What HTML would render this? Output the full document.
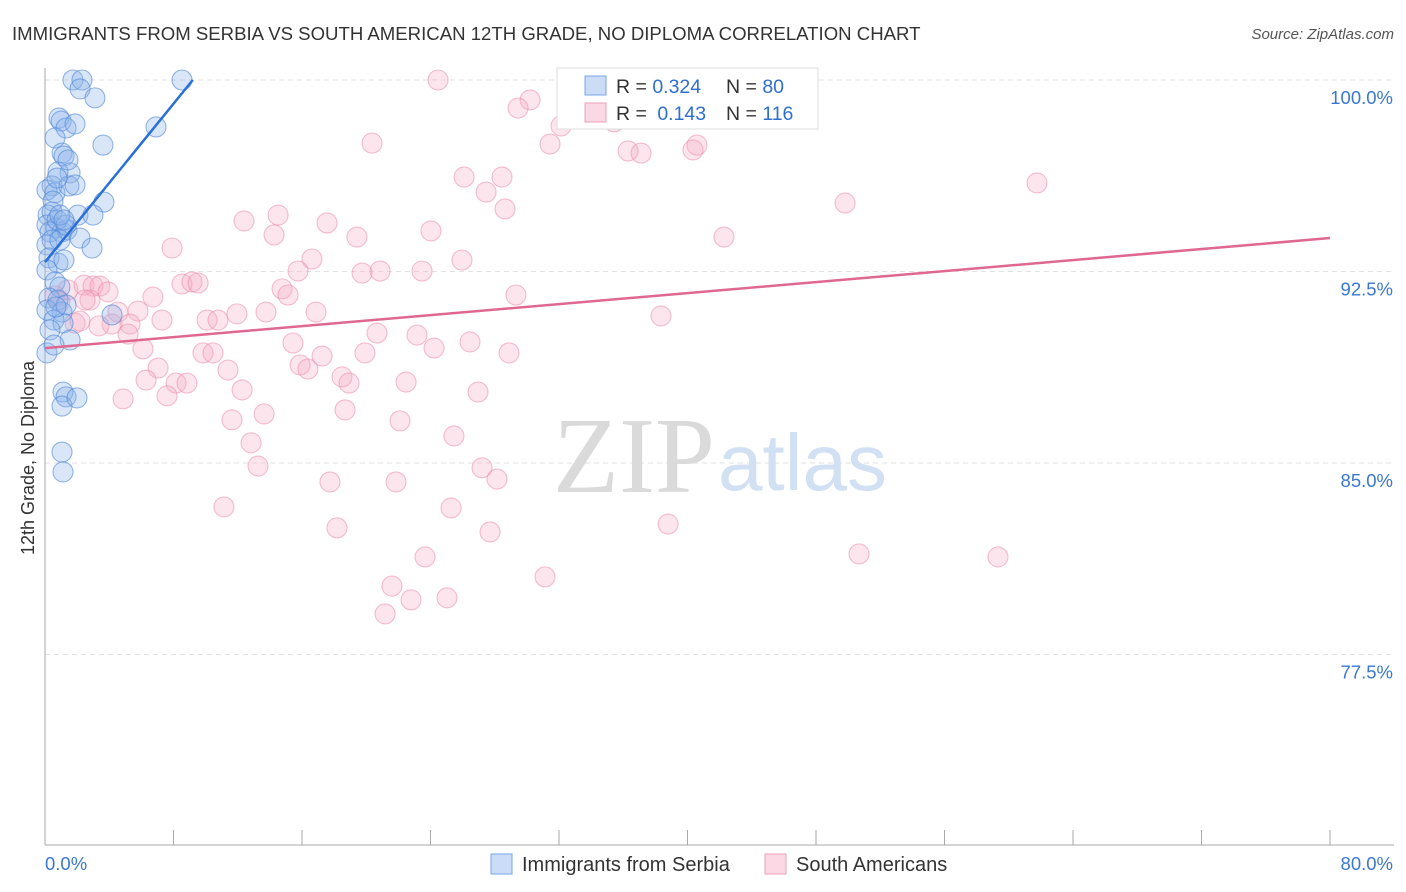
<!DOCTYPE html>
<html><head><meta charset="utf-8"><style>
body{margin:0;background:#fff;font-family:"Liberation Sans",sans-serif}
svg{display:block}
</style></head><body>
<svg id="chart" width="1406" height="892" xmlns="http://www.w3.org/2000/svg">
<text x="12" y="40" font-size="18.6" fill="#333">IMMIGRANTS FROM SERBIA VS SOUTH AMERICAN 12TH GRADE, NO DIPLOMA CORRELATION CHART</text>
<text x="1394" y="39" font-size="15" fill="#555" text-anchor="end" font-style="italic">Source: ZipAtlas.com</text>
<g id="grid"></g>
<text x="553" y="492" font-size="108" fill="#dadada" font-family="Liberation Serif,serif">ZIP</text>
<text x="718" y="490" font-size="80" fill="#d2e0f3">atlas</text>
<g id="axes"></g>
<g id="pinkPts"></g>
<g id="bluePts"></g>
<g id="lines"></g>
<text transform="translate(34,458) rotate(-90)" font-size="18" fill="#333" text-anchor="middle">12th Grade, No Diploma</text>
<g>
<rect x="557" y="68" width="261" height="61" fill="#fff" stroke="#ddd"/>
<rect x="585" y="76" width="21" height="19" fill="rgba(140,180,235,0.45)" stroke="#7aa6e4"/>
<text x="616" y="93" font-size="19.5" fill="#333">R = <tspan fill="#2f6fd0">0.324</tspan></text>
<text x="726" y="93" font-size="19.5" fill="#333">N = <tspan fill="#2f6fd0">80</tspan></text>
<rect x="585" y="103" width="21" height="19" fill="rgba(245,170,195,0.45)" stroke="#eda0b8"/>
<text x="616" y="120" font-size="19.5" fill="#333">R = <tspan dx="5" fill="#2f6fd0">0.143</tspan></text>
<text x="726" y="120" font-size="19.5" fill="#333">N = <tspan fill="#2f6fd0">116</tspan></text>
</g>
<g>
<rect x="491" y="854" width="21" height="20" fill="rgba(140,180,235,0.45)" stroke="#7aa6e4"/>
<text x="522" y="871" font-size="20" fill="#333">Immigrants from Serbia</text>
<rect x="765" y="854" width="21" height="20" fill="rgba(245,170,195,0.45)" stroke="#eda0b8"/>
<text x="796" y="871" font-size="20" fill="#333">South Americans</text>
</g>
</svg>
<script>
const yTicks=[100,92.5,85,77.5];
const yTickLabels=["100.0%","92.5%","85.0%","77.5%"];
const xEndLabels=["0.0%","80.0%"];
const serbiaX=[1.74,2.30,2.18,3.11,8.53,6.91,0.87,1.00,1.31,1.87,3.61,0.62,1.06,1.18,1.56,0.81,0.44,0.12,0.62,1.49,1.87,0.50,3.67,0.19,0.44,2.05,2.99,0.12,0.68,0.31,1.06,1.37,0.12,0.44,0.93,2.18,2.93,0.25,0.81,0.12,0.62,0.93,0.25,0.81,0.12,1.06,0.56,1.12,0.31,4.17,1.56,0.12,1.12,1.31,1.06,1.99,1.06,1.12,0.75,1.31,0.93,1.18,1.31,0.68,0.56,1.18,0.75,1.43];
const serbiaY=[100,100,99.65,99.3,100,98.16,98.51,98.39,98.12,98.28,97.45,97.73,97.14,97.02,96.36,96.40,95.85,95.69,95.58,95.85,95.89,95.26,95.22,94.71,94.83,94.71,94.71,94.32,94.20,94.05,94.05,94.13,93.54,93.73,93.73,93.81,93.42,93.03,92.83,92.56,92.09,91.89,91.46,91.38,90.99,90.91,90.60,90.48,90.21,90.80,89.82,89.31,87.78,87.59,87.23,87.55,85.43,84.65,94.52,94.32,94.71,92.95,91.19,91.11,89.62,94.52,96.16,96.87];
const saX=[24.47,32.56,30.20,29.45,32.13,35.43,20.36,31.44,36.30,37.11,40.59,40.34,61.76,49.81,26.09,28.45,27.46,28.64,12.39,14.51,17.56,14.26,19.42,24.03,42.27,7.91,16.62,25.96,15.75,20.86,19.74,23.47,8.53,9.15,9.53,14.76,15.13,6.72,29.32,0.62,1.43,2.43,2.99,3.42,3.92,2.80,4.54,5.79,7.28,10.09,10.77,11.95,13.76,16.87,38.35,4.17,5.29,1.87,2.18,5.17,20.67,23.16,15.44,26.46,6.10,9.84,10.46,19.92,17.25,24.22,28.89,11.39,7.04,6.29,8.16,8.84,12.27,18.49,18.93,15.88,16.37,22.48,7.60,4.86,26.96,18.68,11.64,13.64,22.10,25.46,12.83,13.26,27.21,28.14,17.74,21.85,11.14,25.28,18.18,27.71,38.79,23.66,31.13,50.68,59.33,21.60,22.79,25.03,21.17,3.36,0.93,2.49];
const saY=[100,100,99.22,98.90,98.20,98.36,97.53,97.49,97.22,97.14,97.45,97.26,95.97,95.18,96.20,96.20,95.61,94.95,94.48,94.71,94.40,93.93,93.85,94.09,93.85,93.42,92.99,92.95,92.52,92.52,92.44,92.52,92.01,92.09,92.05,91.82,91.58,91.50,91.58,91.54,91.78,91.97,91.93,91.93,91.70,91.38,90.91,90.95,90.60,90.60,90.60,90.84,90.91,90.91,90.76,90.44,90.44,90.48,90.56,90.05,90.09,90.01,89.70,89.74,89.47,89.31,89.31,89.31,89.19,89.50,89.31,88.64,88.72,88.25,88.13,88.13,87.86,88.37,88.13,88.84,88.68,88.17,87.63,87.51,87.78,87.08,86.69,86.92,86.65,86.06,85.79,84.88,84.81,84.37,84.26,84.26,83.28,83.24,82.46,82.30,82.61,81.32,80.54,81.44,81.32,80.18,79.64,79.72,79.09,90.37,91.31,91.38];
const serbiaTrend=[[0,92.87],[9.2,100]];
const saTrend=[[0,89.5],[80,93.81]];
const NS="http://www.w3.org/2000/svg";
const X=v=>45+v/80*1285;
const Y=v=>80+(100-v)/7.5*191.5;
function mk(tag,attrs,parent){const e=document.createElementNS(NS,tag);for(const k in attrs)e.setAttribute(k,attrs[k]);parent.appendChild(e);return e;}
const grid=document.getElementById('grid'),axes=document.getElementById('axes');
yTicks.forEach((t,i)=>{
 const l=mk('line',{x1:45,x2:1394,y1:Y(t),y2:Y(t),stroke:'#e2e2e2','stroke-dasharray':'5,4'},grid);
 
 
 const tx=mk('text',{x:1393,y:Y(t)+24,'font-size':18.5,fill:'#3a78d0','text-anchor':'end'},axes);
 tx.textContent=yTickLabels[i];
 
 
});
mk('line',{x1:45,x2:45,y1:68,y2:845,stroke:'#aaa'},axes);
mk('line',{x1:45,x2:1394,y1:845,y2:845,stroke:'#aaa'},axes);
for(let i=0;i<=10;i++){const t=mk('line',{x1:X(i*8),x2:X(i*8),y1:830,y2:845,stroke:'#aaa'},axes);
 
 }
const xl0=mk('text',{x:45,y:870,'font-size':18.5,fill:'#3a78d0'},axes);xl0.textContent=xEndLabels[0];


const xl1=mk('text',{x:1393,y:870,'font-size':18.5,fill:'#3a78d0','text-anchor':'end'},axes);xl1.textContent=xEndLabels[1];


const pg=document.getElementById('pinkPts');
saX.forEach((v,i)=>{const c=mk('circle',{cx:X(v),cy:Y(saY[i]),r:10,fill:'rgba(245,170,195,0.3)',stroke:'rgba(235,140,170,0.55)','stroke-width':1.1},pg);
 
 });
const bg=document.getElementById('bluePts');
serbiaX.forEach((v,i)=>{const c=mk('circle',{cx:X(v),cy:Y(serbiaY[i]),r:10,fill:'rgba(140,180,235,0.33)',stroke:'rgba(80,135,215,0.6)','stroke-width':1.1},bg);
 
 });
const lg=document.getElementById('lines');
const l1=mk('line',{x1:X(serbiaTrend[0][0]),y1:Y(serbiaTrend[0][1]),x2:X(serbiaTrend[1][0]),y2:Y(serbiaTrend[1][1]),stroke:'#2a6fd6','stroke-width':2.5},lg);


const l2=mk('line',{x1:X(saTrend[0][0]),y1:Y(saTrend[0][1]),x2:X(saTrend[1][0]),y2:Y(saTrend[1][1]),stroke:'#e06890','stroke-width':2.5},lg);


</script>
</body></html>
